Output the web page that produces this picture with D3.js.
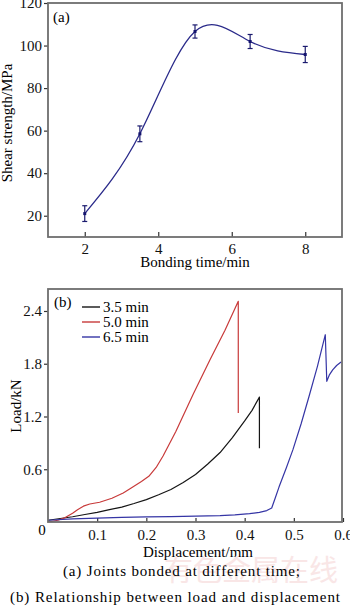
<!DOCTYPE html>
<html>
<head>
<meta charset="utf-8">
<script src="https://cdn.jsdelivr.net/npm/d3@7"></script>
<style>
  html, body { margin: 0; padding: 0; background: #fff; }
  svg { display: block; }
  svg text { font-family: "Liberation Serif", "DejaVu Serif", serif; }
</style>
</head>
<body>
<div id="chart"></div>
<script>
"use strict";

/* (a) shear strength vs bonding time */
var bondTime = [2, 3.5, 5, 6.5, 8];
var shearStrength = [21, 58.5, 106.6, 101.9, 95.8];
var shearErr = [3.7, 3.7, 3.1, 3.3, 3.8];
var timeTicks = [2, 4, 6, 8];
var strengthTicks = [20, 40, 60, 80, 100, 120];

/* (b) load vs displacement */
var disp35 = [0, 0.025, 0.05, 0.075, 0.1, 0.125, 0.15, 0.175, 0.2, 0.225, 0.25, 0.275, 0.3, 0.325, 0.35, 0.375, 0.4, 0.415, 0.43, 0.43];
var load35 = [0.02, 0.04, 0.06, 0.085, 0.11, 0.14, 0.17, 0.21, 0.255, 0.31, 0.37, 0.45, 0.54, 0.66, 0.79, 0.96, 1.15, 1.27, 1.42, 0.84];

var disp50 = [0, 0.02, 0.035, 0.05, 0.06, 0.072, 0.085, 0.105, 0.13, 0.153, 0.17, 0.19, 0.205, 0.22, 0.234, 0.26, 0.295, 0.33, 0.36, 0.387, 0.387];
var load50 = [0, 0.02, 0.05, 0.1, 0.14, 0.18, 0.205, 0.225, 0.27, 0.33, 0.39, 0.46, 0.52, 0.62, 0.75, 1.03, 1.45, 1.85, 2.18, 2.51, 1.24];

var disp65 = [0, 0.05, 0.1, 0.15, 0.2, 0.25, 0.3, 0.35, 0.38, 0.41, 0.43, 0.445, 0.455, 0.462, 0.47, 0.485, 0.498, 0.515, 0.531, 0.548, 0.564, 0.567, 0.572, 0.579, 0.587, 0.596];
var load65 = [0.02, 0.035, 0.045, 0.052, 0.058, 0.062, 0.066, 0.072, 0.08, 0.095, 0.11, 0.13, 0.16, 0.27, 0.4, 0.62, 0.82, 1.12, 1.43, 1.77, 2.13, 1.6, 1.67, 1.73, 1.78, 1.82];

var seriesNames = ["3.5 min", "5.0 min", "6.5 min"];
var seriesColors = ["#151515", "#c83a3a", "#3535a5"];
var dispTicks = [0.1, 0.2, 0.3, 0.4, 0.5, 0.6];
var loadTicks = [0.6, 1.2, 1.8, 2.4];

var captionLines = ["(a) Joints bonded at  different  time;",
                    "(b)  Relationship  between  load  and displacement"];


var W = 350, H = 611;
var svg = d3.select("#chart").append("svg")
            .attr("width", W).attr("height", H);

var frameColor = "#6e6e6e";

function styleAxis(g) {
  g.select(".domain").remove();
  g.selectAll(".tick line").attr("stroke", "#333").attr("stroke-width", 1.2);
  g.selectAll(".tick text").attr("fill", "#111")
   .attr("font-family", "Liberation Serif").style("font-size", "15px");
}

/* ---------- panel (a) ---------- */
var xa = d3.scaleLinear().domain([1, 9]).range([48, 342]);
var ya = d3.scaleLinear().domain([10, 120]).range([237, 3]);

svg.append("g")
   .attr("transform", "translate(0,237)")
   .call(d3.axisBottom(xa).tickValues(timeTicks).tickSize(-5).tickPadding(6))
   .call(styleAxis);

svg.append("g")
   .attr("transform", "translate(48,0)")
   .call(d3.axisLeft(ya).tickValues(strengthTicks).tickSize(4).tickPadding(2))
   .call(styleAxis);

svg.append("rect")
   .attr("x", xa.range()[0]).attr("y", ya.range()[1])
   .attr("width", xa.range()[1] - xa.range()[0])
   .attr("height", ya.range()[0] - ya.range()[1])
   .attr("fill", "none").attr("stroke", frameColor).attr("stroke-width", 1.8);

var ptsA = bondTime.map(function (d, i) { return [d, shearStrength[i], shearErr[i]]; });

svg.append("path")
   .datum(ptsA)
   .attr("d", d3.line().curve(d3.curveNatural)
                .x(function (d) { return xa(d[0]); })
                .y(function (d) { return ya(d[1]); }))
   .attr("fill", "none").attr("stroke", "#2a2a8a").attr("stroke-width", 1.3);

var eb = svg.append("g").attr("stroke", "#1a1a6e").attr("stroke-width", 1.2);
eb.selectAll(".vbar").data(ptsA).enter().append("line")
  .attr("x1", function (d) { return xa(d[0]); })
  .attr("x2", function (d) { return xa(d[0]); })
  .attr("y1", function (d) { return ya(d[1] - d[2]); })
  .attr("y2", function (d) { return ya(d[1] + d[2]); });
[-1, 1].forEach(function (s) {
  eb.selectAll(".cap" + s).data(ptsA).enter().append("line")
    .attr("x1", function (d) { return xa(d[0]) - 2.5; })
    .attr("x2", function (d) { return xa(d[0]) + 2.5; })
    .attr("y1", function (d) { return ya(d[1] + s * d[2]); })
    .attr("y2", function (d) { return ya(d[1] + s * d[2]); });
});
svg.selectAll(".mk").data(ptsA).enter().append("rect")
   .attr("x", function (d) { return xa(d[0]) - 1.5; })
   .attr("y", function (d) { return ya(d[1]) - 1.5; })
   .attr("width", 3).attr("height", 3)
   .attr("fill", "#14146e");

svg.append("text").attr("x", 53).attr("y", 22)
   .style("font-size", "15px").text("(a)");

svg.append("text").attr("x", 195).attr("y", 267)
   .attr("text-anchor", "middle").style("font-size", "15px")
   .text("Bonding time/min");

svg.append("text")
   .attr("transform", "translate(12,123) rotate(-90)")
   .attr("text-anchor", "middle").style("font-size", "15px")
   .text("Shear strength/MPa");

/* ---------- panel (b) ---------- */
var xb = d3.scaleLinear().domain([0, 0.6]).range([48, 343]);
var yb = d3.scaleLinear().domain([0, 2.65]).range([522, 289]);

svg.append("g")
   .attr("transform", "translate(0,522)")
   .call(d3.axisBottom(xb).tickValues(dispTicks).tickSize(-4).tickPadding(7)
           .tickFormat(d3.format(".1f")))
   .call(styleAxis);

svg.append("g")
   .attr("transform", "translate(48,0)")
   .call(d3.axisLeft(yb).tickValues(loadTicks).tickSize(4).tickPadding(2)
           .tickFormat(d3.format(".1f")))
   .call(styleAxis);

svg.append("text").attr("x", 42).attr("y", 535)
   .attr("text-anchor", "middle").style("font-size", "15px").text("0");

svg.append("defs").append("clipPath").attr("id", "clipb")
   .append("rect")
   .attr("x", 48).attr("y", 289).attr("width", 294).attr("height", 233);

var lineB = d3.line()
              .x(function (d) { return xb(d[0]); })
              .y(function (d) { return yb(d[1]); });

var seriesB = [[disp35, load35], [disp50, load50], [disp65, load65]];

var gb = svg.append("g").attr("clip-path", "url(#clipb)");
seriesB.forEach(function (s, k) {
  var pts = s[0].map(function (d, i) { return [d, s[1][i]]; });
  gb.append("path").datum(pts)
    .attr("d", lineB)
    .attr("fill", "none")
    .attr("stroke", seriesColors[k])
    .attr("stroke-width", 1.2)
    .attr("stroke-linejoin", "round");
});

svg.append("rect")
   .attr("x", 48).attr("y", 289).attr("width", 294).attr("height", 233)
   .attr("fill", "none").attr("stroke", frameColor).attr("stroke-width", 1.8);

svg.append("text").attr("x", 54).attr("y", 307)
   .style("font-size", "15px").text("(b)");

var leg = svg.append("g");
seriesNames.forEach(function (n, i) {
  var yy = 307 + i * 15;
  leg.append("line").attr("x1", 82).attr("x2", 100)
     .attr("y1", yy).attr("y2", yy)
     .attr("stroke", seriesColors[i]).attr("stroke-width", 1.4);
  leg.append("text").attr("x", 103).attr("y", yy + 5)
     .style("font-size", "15px").text(n);
});

svg.append("text").attr("x", 198).attr("y", 557)
   .attr("text-anchor", "middle").style("font-size", "15px")
   .text("Displacement/mm");

svg.append("text")
   .attr("transform", "translate(21,406) rotate(-90)")
   .attr("text-anchor", "middle").style("font-size", "15px")
   .text("Load/kN");

/* watermark + caption */
svg.append("text").attr("x", 164).attr("y", 581)
   .style("font-family", "Noto Sans CJK SC").style("font-size", "29px")
   .attr("fill", "#f9e6e6").text("有色金属在线");

svg.append("text").attr("x", 63).attr("y", 576)
   .attr("textLength", 237).attr("lengthAdjust", "spacing")
   .style("font-size", "15px").text(captionLines[0]);
svg.append("text").attr("x", 10).attr("y", 602)
   .attr("textLength", 330).attr("lengthAdjust", "spacing")
   .style("font-size", "15px").text(captionLines[1]);
</script>
</body>
</html>
